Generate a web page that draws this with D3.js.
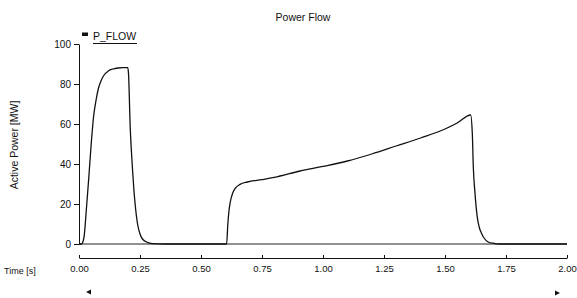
<!DOCTYPE html>
<html>
<head>
<meta charset="utf-8">
<script src="https://cdn.jsdelivr.net/npm/d3@7"></script>
<style>
  html, body { margin: 0; padding: 0; background: #fff; }
  svg { display: block; font-family: Arial, "Liberation Sans", sans-serif; }
</style>
</head>
<body>
<svg id="chart" width="577" height="298"></svg>
<script>
// ---- data ----
const chartTitle = "Power Flow";
const seriesName = "P_FLOW";
const yLabel = "Active Power [MW]";
const xLabel = "Time [s]";
const timeValues = [0, 0.01, 0.02, 0.03, 0.04, 0.05, 0.06, 0.07, 0.08, 0.09, 0.10, 0.12, 0.14, 0.16, 0.18, 0.20,
  0.203, 0.21, 0.215, 0.22, 0.225, 0.23, 0.24, 0.25, 0.26, 0.28, 0.30, 0.35,
  0.605, 0.61, 0.615, 0.62, 0.63, 0.64, 0.66, 0.69, 0.75, 0.80, 0.906, 1.00, 1.10, 1.20, 1.30, 1.40, 1.50, 1.55, 1.605,
  1.612, 1.616, 1.623, 1.632, 1.64, 1.65, 1.66, 1.677, 1.70, 1.72, 2.00];
const powerValues = [0, 0, 3, 17, 33, 50, 64, 72, 78, 81.5, 84, 86.5, 87.5, 88, 88.2, 88.2,
  85, 58, 46, 36, 27, 20, 10, 5, 2.5, 0.8, 0.2, 0,
  0, 10, 17, 21, 25.5, 27.8, 29.8, 31, 32.2, 33.3, 36.5, 38.8, 41.5, 45, 49, 53, 57.5, 60.5, 64.5,
  55, 38.6, 25.3, 13.7, 8.5, 5.3, 3, 1, 0.3, 0, 0];
const xTicks = [0, 0.25, 0.5, 0.75, 1.0, 1.25, 1.5, 1.75, 2.0];
const yTicks = [0, 20, 40, 60, 80, 100];

// ---- layout ----
const svg = d3.select("#chart");
const x = d3.scaleLinear().domain([0, 2]).range([79, 567]);
const y = d3.scaleLinear().domain([0, 100]).range([244, 44]);

// title
svg.append("text").attr("x", 303).attr("y", 21).attr("text-anchor", "middle")
  .attr("font-size", 10.5).attr("fill", "#111").text(chartTitle);

// legend
svg.append("rect").attr("x", 82).attr("y", 32.5).attr("width", 6).attr("height", 3.5).attr("fill", "#111");
svg.append("text").attr("x", 93).attr("y", 40).attr("font-size", 10.5).attr("fill", "#111").text(seriesName);
svg.append("line").attr("x1", 93).attr("x2", 137).attr("y1", 43.5).attr("y2", 43.5)
  .attr("stroke", "#111").attr("stroke-width", 1.2);

// y axis
const yAxis = d3.axisLeft(y).tickValues(yTicks).tickSize(5).tickSizeOuter(0).tickPadding(3);
const gy = svg.append("g").attr("transform", "translate(79,0)").call(yAxis);
gy.selectAll("text").attr("font-size", 10).attr("fill", "#111").attr("font-family", "Arial, 'Liberation Sans', sans-serif");
gy.selectAll("line, path").attr("stroke", "#111");

svg.append("text").attr("transform", "translate(18,145) rotate(-90)").attr("text-anchor", "middle")
  .attr("font-size", 10.5).attr("fill", "#111").text(yLabel);

// x axis (separate, below)
const xAxis = d3.axisBottom(x).tickValues(xTicks).tickFormat(d3.format(".2f")).tickSize(-3).tickSizeOuter(0).tickPadding(7);
const gx = svg.append("g").attr("transform", "translate(0,258)").call(xAxis);
gx.selectAll("text").attr("font-size", 9.5).attr("fill", "#111").attr("font-family", "Arial, 'Liberation Sans', sans-serif");
gx.selectAll("line, path").attr("stroke", "#111");

svg.append("text").attr("x", 4).attr("y", 274).attr("font-size", 9).attr("fill", "#111").text(xLabel);

// arrows
svg.append("path").attr("d", "M86,292 L91,289.5 L91,294.5 Z").attr("fill", "#111");
svg.append("path").attr("d", "M560,293 L555,290.5 L555,295.5 Z").attr("fill", "#111");

// zero line
svg.append("line").attr("x1", x(0)).attr("x2", x(2)).attr("y1", y(0)).attr("y2", y(0))
  .attr("stroke", "#222").attr("stroke-width", 1);

// curve
const data = timeValues.map((t, i) => ({ t, p: powerValues[i] }));
const line = d3.line().x(d => x(d.t)).y(d => y(d.p)).curve(d3.curveMonotoneX);
svg.append("path").datum(data).attr("d", line).attr("fill", "none")
  .attr("stroke", "#111").attr("stroke-width", 1.3);
</script>
</body>
</html>
